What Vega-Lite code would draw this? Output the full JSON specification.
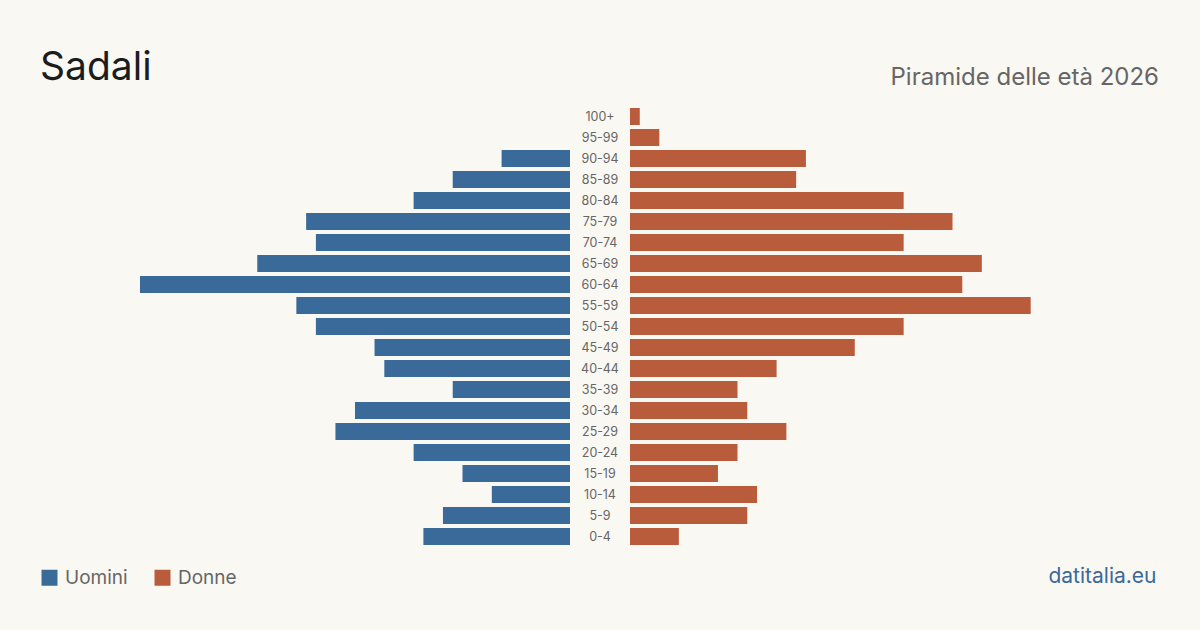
{
  "$schema": "https://vega.github.io/schema/vega-lite/v6.json",
  "background": "#faf8f3",
  "padding": {"left": 40, "right": 40, "top": 49, "bottom": 43},
  "config": {"view": {"stroke": null}, "font": "Inter"},
  "data": {"values": [
    {"eta": "100+", "sesso": "Uomini", "valore": 0}, {"eta": "100+", "sesso": "Donne", "valore": 1},
    {"eta": "95-99", "sesso": "Uomini", "valore": 0}, {"eta": "95-99", "sesso": "Donne", "valore": 3},
    {"eta": "90-94", "sesso": "Uomini", "valore": 7}, {"eta": "90-94", "sesso": "Donne", "valore": 18},
    {"eta": "85-89", "sesso": "Uomini", "valore": 12}, {"eta": "85-89", "sesso": "Donne", "valore": 17},
    {"eta": "80-84", "sesso": "Uomini", "valore": 16}, {"eta": "80-84", "sesso": "Donne", "valore": 28},
    {"eta": "75-79", "sesso": "Uomini", "valore": 27}, {"eta": "75-79", "sesso": "Donne", "valore": 33},
    {"eta": "70-74", "sesso": "Uomini", "valore": 26}, {"eta": "70-74", "sesso": "Donne", "valore": 28},
    {"eta": "65-69", "sesso": "Uomini", "valore": 32}, {"eta": "65-69", "sesso": "Donne", "valore": 36},
    {"eta": "60-64", "sesso": "Uomini", "valore": 44}, {"eta": "60-64", "sesso": "Donne", "valore": 34},
    {"eta": "55-59", "sesso": "Uomini", "valore": 28}, {"eta": "55-59", "sesso": "Donne", "valore": 41},
    {"eta": "50-54", "sesso": "Uomini", "valore": 26}, {"eta": "50-54", "sesso": "Donne", "valore": 28},
    {"eta": "45-49", "sesso": "Uomini", "valore": 20}, {"eta": "45-49", "sesso": "Donne", "valore": 23},
    {"eta": "40-44", "sesso": "Uomini", "valore": 19}, {"eta": "40-44", "sesso": "Donne", "valore": 15},
    {"eta": "35-39", "sesso": "Uomini", "valore": 12}, {"eta": "35-39", "sesso": "Donne", "valore": 11},
    {"eta": "30-34", "sesso": "Uomini", "valore": 22}, {"eta": "30-34", "sesso": "Donne", "valore": 12},
    {"eta": "25-29", "sesso": "Uomini", "valore": 24}, {"eta": "25-29", "sesso": "Donne", "valore": 16},
    {"eta": "20-24", "sesso": "Uomini", "valore": 16}, {"eta": "20-24", "sesso": "Donne", "valore": 11},
    {"eta": "15-19", "sesso": "Uomini", "valore": 11}, {"eta": "15-19", "sesso": "Donne", "valore": 9},
    {"eta": "10-14", "sesso": "Uomini", "valore": 8}, {"eta": "10-14", "sesso": "Donne", "valore": 13},
    {"eta": "5-9", "sesso": "Uomini", "valore": 13}, {"eta": "5-9", "sesso": "Donne", "valore": 12},
    {"eta": "0-4", "sesso": "Uomini", "valore": 15}, {"eta": "0-4", "sesso": "Donne", "valore": 5}
  ]},
  "spacing": 0,
  "resolve": {"scale": {"color": "shared", "x": "independent", "y": "independent"}, "legend": {"color": "shared"}},
  "hconcat": [
    {
      "width": 530, "height": 441,
      "title": {"text": "Sadali", "anchor": "start", "fontSize": 39, "font": "Inter", "fontWeight": 400, "color": "#1c1c1c", "offset": 18},
      "transform": [{"filter": "datum.sesso === 'Uomini'"}],
      "mark": {"type": "bar"},
      "encoding": {
        "y": {"field": "eta", "type": "nominal", "axis": null,
              "scale": {"domain": ["100+","95-99","90-94","85-89","80-84","75-79","70-74","65-69","60-64","55-59","50-54","45-49","40-44","35-39","30-34","25-29","20-24","15-19","10-14","5-9","0-4"], "paddingInner": 0.19, "paddingOuter": 0.095}},
        "x": {"field": "valore", "type": "quantitative", "axis": null, "scale": {"domain": [0, 54.23], "reverse": true, "nice": false}},
        "color": {"field": "sesso", "type": "nominal",
                  "scale": {"domain": ["Uomini", "Donne"], "range": ["#3a6a9a", "#b95c3c"]},
                  "legend": {"title": null, "orient": "none", "legendX": 0, "legendY": 462, "direction": "horizontal", "symbolType": "square", "symbolSize": 256, "symbolStrokeWidth": 0, "symbolOpacity": 1, "labelFont": "Inter", "labelFontSize": 19, "labelColor": "#666666", "labelOffset": 6, "columnPadding": 25}}
      }
    },
    {
      "width": 60, "height": 441,
      "transform": [{"filter": "datum.sesso === 'Donne'"}],
      "mark": {"type": "text", "font": "Inter", "fontSize": 12.5, "color": "#666666"},
      "encoding": {
        "y": {"field": "eta", "type": "nominal", "axis": null,
              "scale": {"domain": ["100+","95-99","90-94","85-89","80-84","75-79","70-74","65-69","60-64","55-59","50-54","45-49","40-44","35-39","30-34","25-29","20-24","15-19","10-14","5-9","0-4"], "paddingInner": 0.19, "paddingOuter": 0.095}},
        "text": {"field": "eta", "type": "nominal"}
      }
    },
    {
      "width": 530, "height": 441,
      "title": {"text": "Piramide delle età 2026", "anchor": "end", "fontSize": 24, "font": "Inter", "fontWeight": 400, "color": "#666666", "offset": 16, "dx": -1},
      "transform": [{"filter": "datum.sesso === 'Donne'"}],
      "mark": {"type": "bar"},
      "encoding": {
        "y": {"field": "eta", "type": "nominal", "axis": null,
              "scale": {"domain": ["100+","95-99","90-94","85-89","80-84","75-79","70-74","65-69","60-64","55-59","50-54","45-49","40-44","35-39","30-34","25-29","20-24","15-19","10-14","5-9","0-4"], "paddingInner": 0.19, "paddingOuter": 0.095}},
        "x": {"field": "valore", "type": "quantitative", "scale": {"domain": [0, 54.23], "nice": false},
              "axis": {"title": "datitalia.eu", "labels": false, "ticks": false, "domain": false, "grid": false, "titleFont": "Inter", "titleFontSize": 21, "titleFontWeight": 400, "titleColor": "#3a6a9a", "titleAlign": "right", "titleBaseline": "alphabetic", "titleX": 526, "titleY": 35}},
        "color": {"field": "sesso", "type": "nominal",
                  "scale": {"domain": ["Uomini", "Donne"], "range": ["#3a6a9a", "#b95c3c"]},
                  "legend": {"title": null, "orient": "none", "legendX": 0, "legendY": 462, "direction": "horizontal", "symbolType": "square", "symbolSize": 256, "symbolStrokeWidth": 0, "symbolOpacity": 1, "labelFont": "Inter", "labelFontSize": 19, "labelColor": "#666666", "labelOffset": 6, "columnPadding": 25}}
      }
    }
  ]
}
